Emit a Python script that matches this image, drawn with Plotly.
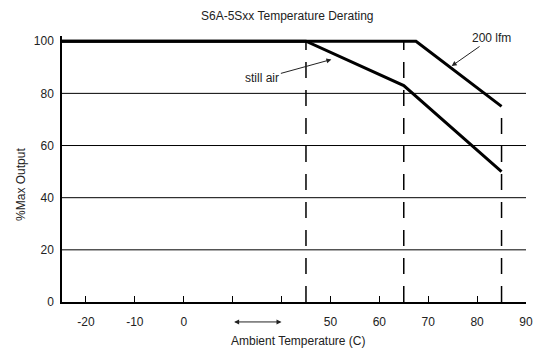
import plotly.graph_objects as go

# ---- data (actual temperatures in C, output in %) ----
still_air_temp = [-25, 45, 65, 85]
still_air_pct = [100, 100, 83, 50]
lfm200_temp = [-25, 67.5, 85]
lfm200_pct = [100, 100, 75]

marker_temp = [45, 65, 85]
marker_top = [100, 100, 75]

grid_pct = [20, 40, 60, 80]
y_ticks = [0, 20, 40, 60, 80, 100]

# broken x axis: 0..50 C is compressed into 30 display units
BREAK_SHIFT = 20
x_tick_display = [-20, -10, 0, 10, 20, 30, 40, 50, 60, 70]
x_tick_text = ["-20", "-10", "0", "", "", "50", "60", "70", "80", "90"]


def disp(t):
    return t if t <= 0 else t - BREAK_SHIFT


FONT = "Liberation Sans, Arial, sans-serif"

fig = go.Figure()
fig.add_trace(go.Scatter(x=[disp(t) for t in still_air_temp], y=still_air_pct,
                         mode="lines", line=dict(color="black", width=3),
                         showlegend=False, hoverinfo="skip"))
fig.add_trace(go.Scatter(x=[disp(t) for t in lfm200_temp], y=lfm200_pct,
                         mode="lines", line=dict(color="black", width=3),
                         showlegend=False, hoverinfo="skip"))

shapes = []
for g in grid_pct:
    shapes.append(dict(type="line", xref="paper", yref="y", x0=0, x1=1, y0=g, y1=g,
                       line=dict(color="black", width=1), layer="below"))
for t, top in zip(marker_temp, marker_top):
    shapes.append(dict(type="line", xref="x", yref="y", x0=disp(t), x1=disp(t), y0=0, y1=top,
                       line=dict(color="black", width=1.5, dash="16px,12px"), layer="below"))

annotations = [
    dict(text="S6A-5Sxx Temperature Derating", xref="paper", yref="paper",
         x=0.485, y=1.0, yshift=29, showarrow=False, font=dict(size=12, color="#222")),
    dict(text="Ambient Temperature (C)", xref="paper", yref="paper",
         x=0.51, y=0, yshift=-48, showarrow=False, font=dict(size=12, color="#222")),
    dict(text="%Max Output", xref="paper", yref="paper", textangle=-90,
         x=0, xshift=-50, y=0.44, showarrow=False, font=dict(size=12, color="#222")),
    dict(text="still air", x=disp(50.2), y=93, xref="x", yref="y",
         ax=-69, ay=19, axref="pixel", ayref="pixel", showarrow=True,
         arrowhead=2, arrowsize=1, arrowwidth=1, arrowcolor="#222",
         font=dict(size=12, color="#222")),
    dict(text="200 lfm", x=disp(74.8), y=90.5, xref="x", yref="y",
         ax=40, ay=-28, axref="pixel", ayref="pixel", showarrow=True,
         arrowhead=2, arrowsize=1, arrowwidth=1, arrowcolor="#222",
         font=dict(size=12, color="#222")),
    dict(text="", x=20, y=-0.075, xref="x", yref="paper",
         ax=10, ay=0, axref="x", ayref="pixel", showarrow=True,
         arrowhead=2, startarrowhead=2, arrowside="end+start",
         arrowsize=1, arrowwidth=1, arrowcolor="#222"),
]

# the page body has an 8px margin, so the figure is sized to fit inside it
fig.update_layout(
    width=535, height=341,
    margin=dict(l=54, r=17, t=28, b=47),
    paper_bgcolor="white", plot_bgcolor="white",
    font=dict(family=FONT, size=12, color="#222"),
    shapes=shapes, annotations=annotations,
    xaxis=dict(range=[-24.9, 70], tickmode="array", tickvals=x_tick_display,
               ticktext=x_tick_text, ticks="inside", ticklen=6, tickwidth=1,
               tickcolor="black", showgrid=False, zeroline=False,
               showline=True, linecolor="black", linewidth=1.5,
               ticklabelstandoff=8, automargin=False),
    yaxis=dict(range=[0, 102], tickmode="array", tickvals=y_ticks,
               ticks="", showgrid=False, zeroline=False,
               showline=True, linecolor="black", linewidth=1.5,
               ticklabelstandoff=4, automargin=False),
)

fig.write_html("out.html")
